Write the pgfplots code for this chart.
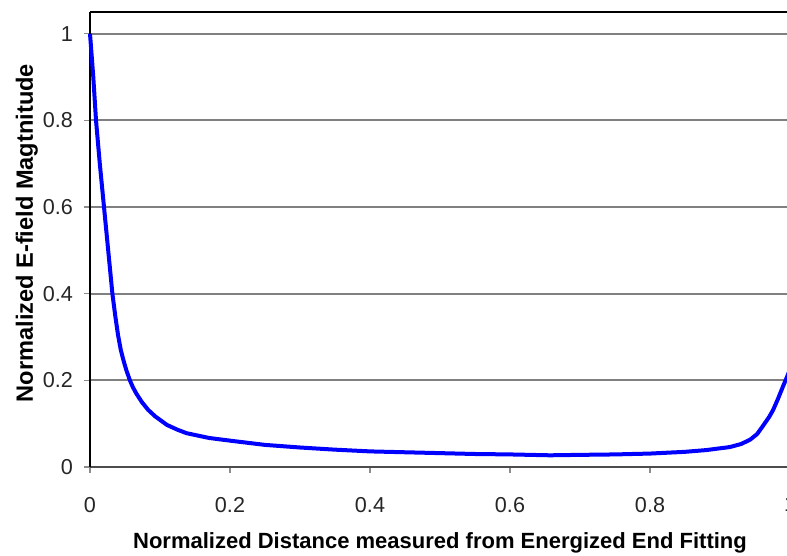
\documentclass[border=0pt]{standalone}
\usepackage{pgfplots}
\pgfplotsset{compat=1.18}
\usepackage{fontspec}
\setmainfont{Liberation Sans}

\begin{document}
\begin{tikzpicture}
% page frame; the right end of the axis runs past it
\path[use as bounding box] (-45pt,-44.5pt) rectangle (348.5pt,233.5pt);
\begin{axis}[
  scale only axis,
  width=350pt, height=227.5pt,
  xmin=0, xmax=1, ymin=0, ymax=1.05,
  xtick={0,0.2,0.4,0.6,0.8,1},
  ytick={0,0.2,0.4,0.6,0.8,1},
  xticklabels={0,0.2,0.4,0.6,0.8,1},
  yticklabels={0,0.2,0.4,0.6,0.8,1},
  axis x line*=bottom,
  axis y line*=left,
  x axis line style={black!70, line width=1pt, -},
  y axis line style={black, line width=1pt, -},
  tick align=outside,
  major tick length=3pt,
  tick style={black!45, line width=0.7pt},
  ymajorgrids,
  grid style={black!50, line width=0.9pt},
  /pgf/number format/assume math mode=true,
  tick label style={font=\fontsize{10.8}{12}\selectfont, text=black!85},
  xticklabel style={yshift=-8.5pt},
  yticklabel style={xshift=-2pt},
  every axis x label/.style={at={(axis description cs:0.5,0)}, anchor=base, yshift=-41pt},
  every axis y label/.style={at={(axis description cs:0,0.514)}, xshift=-28.5pt, rotate=90, anchor=base},
  xlabel style={font=\bfseries\fontsize{11}{13}\selectfont},
  ylabel style={font=\bfseries\fontsize{11.8}{13}\selectfont},
  xlabel={Normalized Distance measured from Energized End Fitting},
  ylabel={Normalized E-field Magtnitude},
  clip=false,
]
% top frame line of the plot area
\draw[black, line width=1pt] (axis cs:0,1.05) -- (axis cs:1,1.05);
\addplot[blue, line width=2pt, line join=round, mark=none] coordinates {
  (0,1.0) (0.0047,0.90) (0.0086,0.80) (0.014,0.70) (0.02,0.60)
  (0.026,0.50) (0.032,0.40) (0.036,0.35) (0.040,0.305) (0.044,0.27)
  (0.048,0.245) (0.052,0.223) (0.057,0.20) (0.061,0.185) (0.066,0.17)
  (0.074,0.15) (0.083,0.132) (0.093,0.117) (0.11,0.097)
  (0.125,0.086) (0.138,0.078) (0.17,0.067) (0.204,0.060) (0.25,0.051)
  (0.3,0.045) (0.35,0.040) (0.4,0.036) (0.45,0.034) (0.5,0.032)
  (0.55,0.030) (0.6,0.029) (0.657,0.027) (0.7,0.028) (0.75,0.029)
  (0.8,0.031) (0.85,0.035) (0.88,0.039) (0.914,0.046) (0.93,0.053)
  (0.943,0.063) (0.953,0.076) (0.961,0.094) (0.97,0.115) (0.976,0.132)
  (0.983,0.158) (0.99,0.186) (0.996,0.209) (1.0,0.225)
};
\end{axis}
\end{tikzpicture}
\end{document}
